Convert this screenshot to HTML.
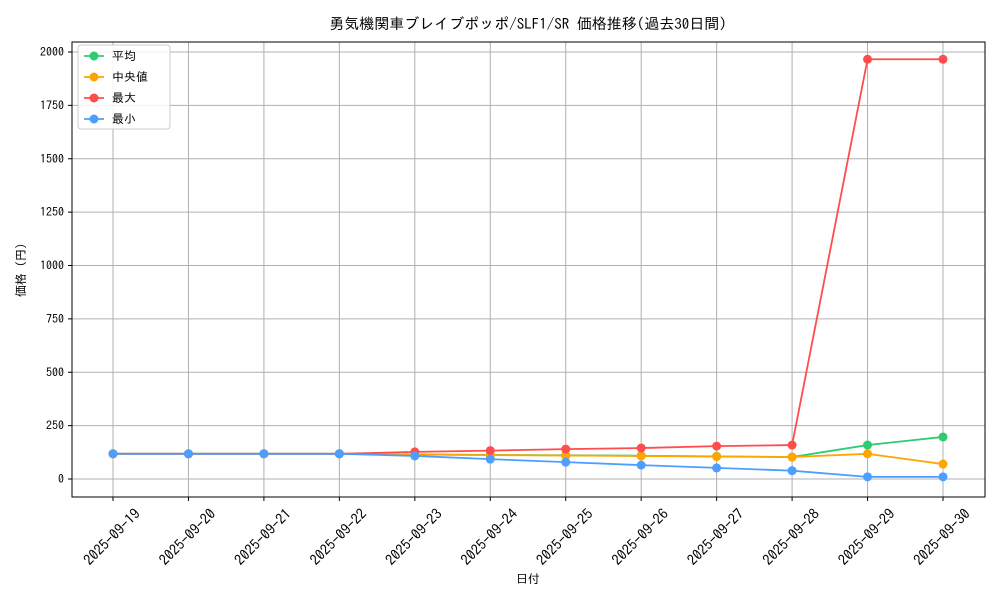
<!DOCTYPE html>
<html><head><meta charset="utf-8"><style>
body{margin:0;background:#fff;}
text{font-family:"IPAGothic","Noto Sans CJK JP",sans-serif;}
</style></head><body>
<svg id="chart" width="1000" height="600" xmlns="http://www.w3.org/2000/svg">
<rect width="1000" height="600" fill="#fff"/>
<text x="528" y="29" text-anchor="middle" font-size="15" fill="#000">勇気機関車ブレイブポッポ/SLF1/SR 価格推移(過去30日間)</text>
<g id="grid"></g><g id="series"></g>
<rect x="72" y="42" width="913" height="455" fill="none" stroke="#000" stroke-width="1"/>
<text x="528" y="583" text-anchor="middle" font-size="12">日付</text>
<text transform="translate(25,270) rotate(-90)" text-anchor="middle" font-size="12">価格 (円)</text>
<g>
<rect x="78" y="45" width="92" height="84" fill="#fff" fill-opacity="0.85" stroke="#ccc" rx="3"/>
</g>
</svg>
<script>
const dates=["2025-09-19","2025-09-20","2025-09-21","2025-09-22","2025-09-23","2025-09-24","2025-09-25","2025-09-26","2025-09-27","2025-09-28","2025-09-29","2025-09-30"];
const meanVals=[118,118,118,118,115,113,111,109,106,103,159,197];
const medianVals=[118,118,118,118,114,112,110,108,105,103,118,70];
const maxVals=[118,118,118,118,127,133,140,145,154,159,1966,1966];
const minVals=[118,118,118,118,108,93,79,65,52,39,10,10];
const yTicks=[0,250,500,750,1000,1250,1500,1750,2000];
const NS="http://www.w3.org/2000/svg";
const X=i=>113+i*(943-113)/(dates.length-1);
const Y=v=>479-v*(479-52)/2000;
const grid=document.getElementById('grid'),ser=document.getElementById('series'),svg=document.getElementById('chart');
function mk(tag,attrs,parent){const e=document.createElementNS(NS,tag);for(const k in attrs)e.setAttribute(k,attrs[k]);parent.appendChild(e);return e;}
dates.forEach((d,i)=>{
 const l=mk('line',{x1:X(i),x2:X(i),y1:42,y2:497,stroke:'#b0b0b0','stroke-width':1},grid);
 
 
 mk('line',{x1:X(i),x2:X(i),y1:497,y2:501,stroke:'#000'},grid);
 const t=mk('text',{x:0,y:5,'font-size':14.5,'text-anchor':'middle',transform:`translate(${X(i)-1},${537}) rotate(-45)`},svg);
 t.textContent=d;
 
 
});
yTicks.forEach(v=>{
 const l=mk('line',{x1:72,x2:985,y1:Y(v),y2:Y(v),stroke:'#b0b0b0','stroke-width':1},grid);
 
 
 mk('line',{x1:68,x2:72,y1:Y(v),y2:Y(v),stroke:'#000'},grid);
 const t=mk('text',{x:64,y:Y(v)+4,'font-size':12,'text-anchor':'end'},svg);
 t.textContent=v;
 
 
});
const series=[["平均",meanVals,"#2ecc71","mean-series"],["中央値",medianVals,"#ffa500","median-series"],["最大",maxVals,"#ff4d4d","max-series"],["最小",minVals,"#4d9fff","min-series"]];
series.forEach(([name,vals,c,id],k)=>{
 const g=mk('g',{},ser);
 
 
 mk('polyline',{points:vals.map((v,i)=>X(i)+','+Y(v)).join(' '),fill:'none',stroke:c,'stroke-width':1.8},g);
 vals.forEach((v,i)=>{const p=mk('circle',{cx:X(i),cy:Y(v),r:4.5,fill:c},g);
  
  });
 const ly=56+k*21;
 const lg=mk('g',{},svg);
 
 
 mk('line',{x1:84,x2:104,y1:ly,y2:ly,stroke:c,'stroke-width':1.8},lg);
 mk('circle',{cx:94,cy:ly,r:4.5,fill:c},lg);
 const t=mk('text',{x:112,y:ly+4,'font-size':12},lg);t.textContent=name;
});
</script>
</body></html>
